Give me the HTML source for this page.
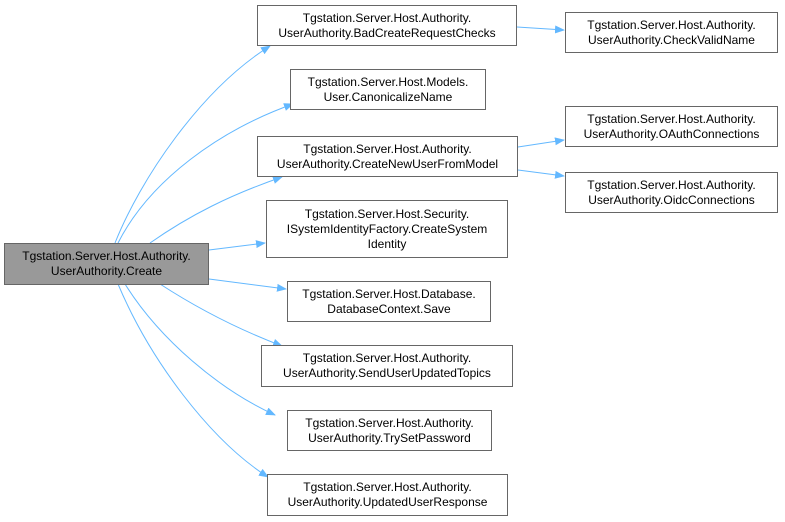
<!DOCTYPE html>
<html><head><meta charset="utf-8"><style>
body{margin:0;width:785px;height:522px;background:#fff;overflow:hidden;font-family:"Liberation Sans",Arial,sans-serif}
.n{position:absolute;box-sizing:border-box;border:1px solid #666;background:#fff;font-size:12px;line-height:15px;text-align:center;color:#000;display:flex;align-items:center;justify-content:center}
</style></head><body>
<svg width="785" height="522" style="position:absolute;left:0;top:0">
<defs><marker id="a" markerWidth="10" markerHeight="8" refX="9" refY="4" orient="auto" markerUnits="userSpaceOnUse"><path d="M0,0 L10,4 L0,8 Z" fill="#63b8ff"/></marker></defs>
<g fill="none" stroke="#63b8ff" stroke-width="1" marker-end="url(#a)">
<path d="M115,243 C140,180 200,90 270,46"/>
<path d="M118,243 C150,180 220,130 293,104"/>
<path d="M150,243 C190,215 230,195 282,177"/>
<path d="M209,250 L265,243"/>
<path d="M209,279 L286,289"/>
<path d="M160,284 C200,310 240,330 282,346"/>
<path d="M125,284 C160,340 220,390 275,415"/>
<path d="M118,284 C150,360 210,440 268,477"/>
<path d="M517,27 L564,30"/>
<path d="M518,147 L564,140"/>
<path d="M518,170 L564,176"/>
</g></svg>
<div class="n" style="left:4px;top:243px;width:205px;height:42px;background:#999">Tgstation.Server.Host.Authority.<br>UserAuthority.Create</div>
<div class="n" style="left:257px;top:5px;width:260px;height:41px">Tgstation.Server.Host.Authority.<br>UserAuthority.BadCreateRequestChecks</div>
<div class="n" style="left:290px;top:69px;width:196px;height:41px">Tgstation.Server.Host.Models.<br>User.CanonicalizeName</div>
<div class="n" style="left:257px;top:136px;width:261px;height:41px">Tgstation.Server.Host.Authority.<br>UserAuthority.CreateNewUserFromModel</div>
<div class="n" style="left:266px;top:200px;width:242px;height:58px">Tgstation.Server.Host.Security.<br>ISystemIdentityFactory.CreateSystem<br>Identity</div>
<div class="n" style="left:287px;top:281px;width:204px;height:41px">Tgstation.Server.Host.Database.<br>DatabaseContext.Save</div>
<div class="n" style="left:261px;top:345px;width:252px;height:42px">Tgstation.Server.Host.Authority.<br>UserAuthority.SendUserUpdatedTopics</div>
<div class="n" style="left:287px;top:410px;width:205px;height:41px">Tgstation.Server.Host.Authority.<br>UserAuthority.TrySetPassword</div>
<div class="n" style="left:267px;top:474px;width:241px;height:42px">Tgstation.Server.Host.Authority.<br>UserAuthority.UpdatedUserResponse</div>
<div class="n" style="left:565px;top:12px;width:213px;height:41px">Tgstation.Server.Host.Authority.<br>UserAuthority.CheckValidName</div>
<div class="n" style="left:565px;top:106px;width:213px;height:41px">Tgstation.Server.Host.Authority.<br>UserAuthority.OAuthConnections</div>
<div class="n" style="left:565px;top:172px;width:213px;height:41px">Tgstation.Server.Host.Authority.<br>UserAuthority.OidcConnections</div>
</body></html>
